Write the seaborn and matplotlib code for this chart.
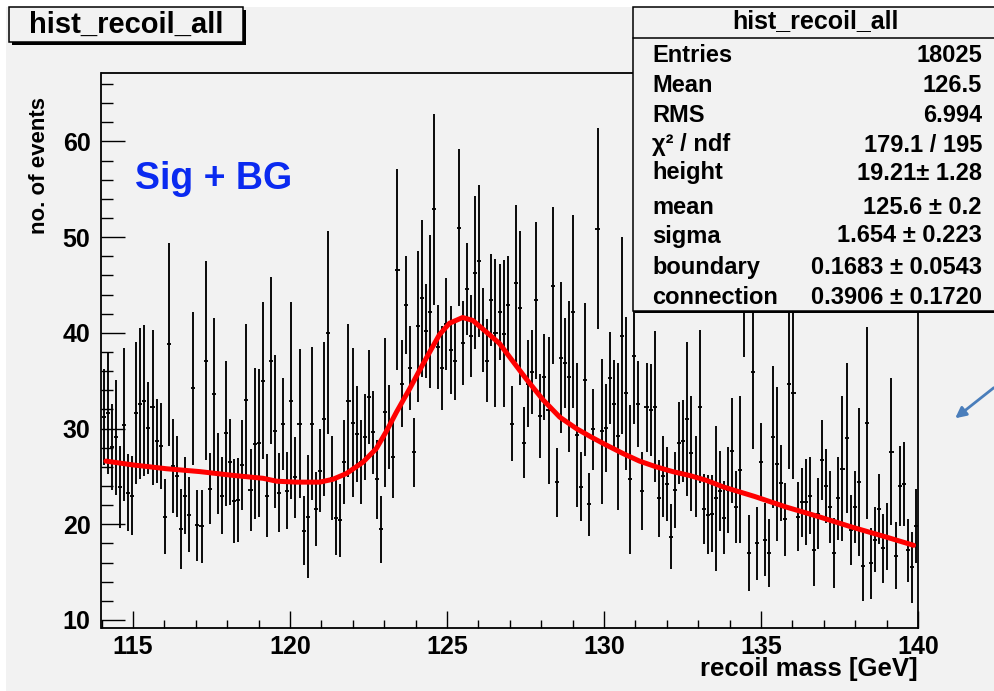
import numpy as np
import matplotlib
matplotlib.use("Agg")
import matplotlib.pyplot as plt
import seaborn as sns
from matplotlib.patches import Rectangle, FancyArrowPatch
from matplotlib.ticker import MultipleLocator

# ---------------- data ----------------
x_min, x_max = 114.0, 140.0
n_bins = 200

counts = [
    31.2, 31.6, 28.1, 29.1, 23.9, 30.4, 23.3, 23.0, 31.6, 32.6,
    32.9, 30.1, 32.2, 28.7, 28.2, 20.8, 38.8, 26.1, 25.0, 19.5,
    23.0, 21.0, 34.2, 19.9, 19.8, 37.1, 23.7, 33.6, 25.3, 23.0,
    29.5, 26.5, 22.4, 22.5, 26.2, 33.0, 23.6, 28.4, 28.5, 35.0,
    23.0, 37.1, 29.7, 23.3, 30.5, 23.5, 32.9, 24.9, 30.5, 19.3,
    20.8, 30.5, 21.6, 25.6, 31.0, 40.0, 24.8, 20.7, 20.4, 26.5,
    32.9, 30.6, 29.4, 26.5, 29.1, 33.3, 29.6, 24.7, 19.5, 31.7,
    30.2, 27.0, 46.6, 34.7, 42.9, 36.3, 27.5, 40.7, 43.6, 40.2,
    42.2, 52.9, 38.5, 36.3, 40.9, 38.2, 37.1, 51.0, 38.9, 44.6,
    39.7, 46.3, 47.5, 40.3, 37.1, 43.4, 40.0, 42.2, 39.9, 42.9,
    30.5, 45.2, 42.6, 28.5, 34.7, 35.9, 43.4, 31.3, 35.4, 31.9,
    44.9, 24.4, 37.4, 36.8, 35.4, 42.2, 29.3, 23.9, 35.1, 22.1,
    29.9, 50.9, 29.7, 30.1, 35.3, 32.6, 29.2, 39.7, 33.7, 24.7,
    37.6, 32.6, 23.5, 32.2, 31.9, 32.3, 22.7, 25.0, 24.2, 18.7,
    23.6, 28.5, 28.7, 31.0, 27.4, 25.0, 32.3, 21.6, 21.0, 21.1,
    22.7, 23.5, 20.7, 23.6, 27.7, 21.8, 25.7, 46.0, 17.0, 35.9,
    18.0, 26.5, 18.4, 17.0, 29.1, 26.3, 24.3, 20.5, 34.7, 33.7,
    20.8, 22.3, 22.3, 23.0, 17.3, 21.1, 26.7, 24.0, 21.8, 17.0,
    22.7, 25.8, 29.0, 19.4, 21.8, 24.4, 15.6, 30.6, 15.9, 18.4,
    21.6, 17.5, 18.7, 27.6, 16.7, 24.0, 24.2, 17.3, 15.5, 19.8,
]

errors = [
    5.0, 6.3, 4.5, 6.0, 4.3, 8.0, 4.0, 4.1, 7.4, 7.9,
    7.9, 4.8, 8.1, 4.4, 4.5, 3.9, 10.6, 4.9, 4.2, 4.2,
    4.0, 3.9, 8.0, 3.7, 3.8, 10.4, 3.7, 8.0, 4.2, 4.0,
    7.6, 4.5, 4.4, 4.4, 4.7, 7.9, 4.3, 7.9, 7.7, 8.2,
    4.3, 8.7, 8.0, 4.1, 4.8, 4.0, 10.3, 4.2, 7.8, 3.6,
    6.4, 8.0, 3.9, 4.3, 8.0, 10.6, 4.4, 3.9, 3.8, 4.4,
    8.0, 7.8, 5.0, 4.4, 4.5, 4.9, 4.3, 4.1, 3.5, 7.8,
    4.4, 4.3, 10.5, 4.5, 5.1, 4.4, 3.6, 7.9, 8.2, 4.9,
    8.0, 10.0, 4.4, 4.4, 4.8, 4.6, 4.1, 8.2, 4.4, 4.8,
    4.3, 8.0, 7.9, 4.4, 4.3, 4.8, 7.7, 5.0, 7.7, 5.1,
    3.9, 8.2, 8.0, 3.7, 4.5, 4.4, 8.2, 4.4, 4.5, 7.7,
    8.2, 3.6, 7.9, 4.7, 7.9, 10.1, 7.5, 3.6, 8.0, 3.3,
    4.2, 10.5, 7.6, 4.6, 4.8, 4.6, 7.7, 10.3, 8.0, 7.8,
    7.1, 4.5, 4.1, 4.7, 4.8, 7.9, 4.0, 4.2, 3.9, 3.4,
    4.0, 4.3, 4.3, 8.0, 6.0, 4.2, 8.0, 3.7, 4.1, 4.0,
    7.6, 4.2, 3.8, 4.5, 5.5, 3.8, 7.7, 8.5, 4.0, 8.0,
    3.8, 4.1, 3.8, 3.6, 7.4, 8.0, 4.0, 3.8, 8.9, 9.0,
    3.6, 3.6, 4.5, 4.0, 3.7, 3.7, 4.2, 3.9, 3.8, 3.7,
    4.3, 7.6, 7.8, 3.7, 3.8, 7.7, 3.6, 10.0, 3.7, 3.4,
    3.7, 3.6, 3.5, 7.7, 3.5, 4.2, 4.4, 3.3, 3.7, 3.9,
]

fit_x = [114.14, 115.0, 116.07, 117.13, 118.2, 119.15, 119.57, 120.2, 120.95,
         121.37, 121.8, 122.33, 122.75, 123.07, 123.39, 123.82, 124.13, 124.4,
         124.76, 125.08, 125.5, 125.82, 126.25, 126.67, 126.99, 127.52, 128.06,
         128.59, 129.12, 129.6, 130.06, 130.6, 131.13, 131.66, 132.19, 132.72,
         133.25, 133.8, 134.3, 134.8, 135.8, 136.83, 137.9, 138.95, 139.86]
fit_y = [26.6, 26.2, 25.8, 25.5, 25.1, 24.8, 24.5, 24.4, 24.4,
         24.7, 25.3, 26.5, 27.9, 29.7, 31.7, 34.2, 36.1, 37.7,
         39.8, 41.0, 41.6, 41.3, 40.1, 38.9, 37.5, 35.2, 33.0,
         31.2, 30.0, 29.1, 28.3, 27.4, 26.6, 26.0, 25.5, 25.1,
         24.6, 23.9, 23.4, 22.9, 21.8, 20.8, 19.7, 18.7, 17.8]

stats_labels = ["Entries", "Mean", "RMS", "χ² / ndf", "height", "mean",
                "sigma", "boundary", "connection"]
stats_values = ["18025", "126.5", "6.994", "179.1 / 195", "19.21± 1.28",
                "125.6 ± 0.2", "1.654 ± 0.223", "0.1683 ± 0.0543",
                "0.3906 ± 0.1720"]

hist_name = "hist_recoil_all"
x_label = "recoil mass [GeV]"
y_label = "no. of events"
annotation = "Sig + BG"

# ---------------- style ----------------
sns.set_theme(style="ticks")
plt.rcParams["font.family"] = ["Liberation Sans", "DejaVu Sans"]

bg = "#f2f2f2"
W, H = 995, 691


def fx(x):
    return x / W


def fy(y):
    return 1 - y / H


fig = plt.figure(figsize=(W / 100, H / 100), dpi=100, facecolor=bg)
ax = fig.add_axes([fx(101.5), fy(628), (918 - 101.5) / W, (628 - 72.5) / H])
ax.set_facecolor(bg)

bin_width = (x_max - x_min) / n_bins
centers = x_min + (np.arange(n_bins) + 0.5) * bin_width

ax.errorbar(centers, counts, xerr=bin_width / 2, yerr=errors, fmt="none",
            ecolor="black", elinewidth=1.35, capsize=0, zorder=2)
sns.lineplot(x=fit_x, y=fit_y, ax=ax, color="#ff0000", linewidth=3.6,
             sort=False, zorder=3)

ax.set_xlim(x_min, x_max)
ax.set_ylim(9.16, 67.2)
ax.xaxis.set_major_locator(MultipleLocator(5))
ax.xaxis.set_minor_locator(MultipleLocator(1))
ax.yaxis.set_major_locator(MultipleLocator(10))
ax.yaxis.set_minor_locator(MultipleLocator(2))

for s in ax.spines.values():
    s.set_color("black")
    s.set_linewidth(1.3)

ax.tick_params(axis="x", which="major", direction="in", length=12, width=1.0,
               color="black", pad=5, top=False)
ax.tick_params(axis="x", which="minor", direction="in", length=6, width=1.0,
               color="black", top=False)
ax.tick_params(axis="y", which="major", direction="in", length=17.6, width=1.0,
               color="black", pad=8, right=False)
ax.tick_params(axis="y", which="minor", direction="in", length=8.8, width=1.0,
               color="black", right=False)

for lab in ax.get_xticklabels() + ax.get_yticklabels():
    lab.set_fontweight("bold")
    lab.set_fontsize(18)
    lab.set_color("black")

ax.set_xlabel("")
ax.set_ylabel("")

fig.text(fx(918), fy(669), x_label, ha="right", va="center", fontsize=18.5,
         fontweight="bold", color="black")
fig.text(fx(40), fy(165), y_label, ha="center", va="center", rotation=90,
         fontsize=16, fontweight="bold", color="black")

fig.text(fx(135), fy(179), annotation, ha="left", va="center", fontsize=27,
         fontweight="bold", color="#0a2af0")

# white margins at the top and the left of the screenshot
fig.add_artist(Rectangle((0, fy(7)), 1, 7 / H, transform=fig.transFigure,
                         facecolor="white", edgecolor="none", zorder=0.5))
fig.add_artist(Rectangle((0, 0), 6 / W, 1, transform=fig.transFigure,
                         facecolor="white", edgecolor="none", zorder=0.5))


def add_box(x0, y0, x1, y1, shadow=3):
    fig.add_artist(Rectangle((fx(x0 + shadow), fy(y1 + shadow)), (x1 - x0) / W,
                             (y1 - y0) / H, transform=fig.transFigure,
                             facecolor="black", edgecolor="none", zorder=10))
    fig.add_artist(Rectangle((fx(x0), fy(y1)), (x1 - x0) / W, (y1 - y0) / H,
                             transform=fig.transFigure, facecolor=bg,
                             edgecolor="black", lw=1.1, zorder=11))


# title box
add_box(9, 7, 243, 42, shadow=3)
fig.text(fx(126), fy(25), hist_name, ha="center", va="center", fontsize=21,
         fontweight="bold", color="black", zorder=12)

# stats box
add_box(633, 7, 1010, 311, shadow=2)
fig.add_artist(plt.Line2D([fx(633), 1], [fy(38), fy(38)], transform=fig.transFigure,
                          color="black", lw=1.1, zorder=12))
fig.text(fx(815), fy(21), hist_name, ha="center", va="center", fontsize=18,
         fontweight="bold", color="black", zorder=12)
row_y = [55, 86, 116, 145, 173, 207, 236, 267, 297]
for lab, val, yy in zip(stats_labels, stats_values, row_y):
    fig.text(fx(652), fy(yy), lab, ha="left", va="center", fontsize=17,
             fontweight="bold", color="black", zorder=12)
    fig.text(fx(982), fy(yy), val, ha="right", va="center", fontsize=17,
             fontweight="bold", color="black", zorder=12)

# arrow on the right
arr = FancyArrowPatch((fx(996), fy(386)), (fx(953), fy(420)),
                      transform=fig.transFigure, arrowstyle="-|>",
                      mutation_scale=16, color="#4a7ebb", lw=2.0, zorder=12)
fig.add_artist(arr)

fig.savefig("out.png", dpi=100, facecolor=bg)
